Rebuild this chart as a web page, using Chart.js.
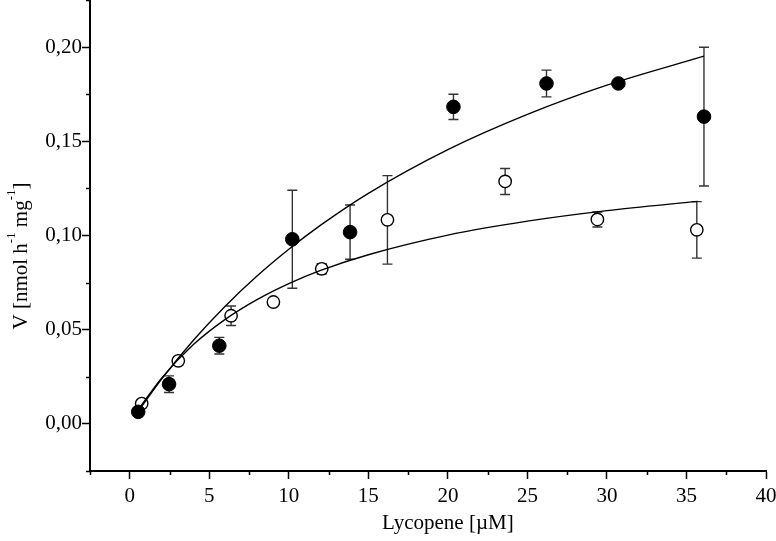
<!DOCTYPE html>
<html>
<head>
<meta charset="utf-8">
<script src="https://cdn.jsdelivr.net/npm/chart.js@4/dist/chart.umd.min.js"></script>
<style>
    html, body { margin: 0; padding: 0; background: #ffffff; }
    #wrap { width: 776px; height: 541px; }
</style>
</head>
<body>
<div id="wrap"><canvas id="myChart" width="776" height="541"></canvas></div>
<script>
// filled circles
const filledX = [0.53, 2.47, 5.63, 10.22, 13.85, 20.35, 26.2, 30.72, 36.1];
const filledY = [0.0064, 0.0211, 0.0415, 0.098, 0.1018, 0.1683, 0.1807, 0.1807, 0.1631];
const filledErr = [0, 0.0044, 0.0044, 0.026, 0.0144, 0.0067, 0.0071, 0, 0.0368];

// open circles
const openX = [0.75, 3.05, 6.37, 9.03, 12.07, 16.2, 23.6, 29.4, 35.65];
const openY = [0.0108, 0.0335, 0.0574, 0.0647, 0.0823, 0.1083, 0.1287, 0.1085, 0.103];
const openErr = [0.002, 0.002, 0.0052, 0.0015, 0.0027, 0.0235, 0.0069, 0.004, 0.015];

// fitted curves
const fitFilledX = [0.5, 2, 4, 6, 8, 10, 12, 15, 20, 25, 30, 36.1];
const fitFilledY = [0.0063, 0.0238, 0.0444, 0.0625, 0.0785, 0.0927, 0.1055, 0.1224, 0.1456, 0.1643, 0.1798, 0.1952];
const fitOpenX = [0.7, 2, 4, 6, 8, 10, 12, 15, 20, 25, 30, 35.7];
const fitOpenY = [0.0095, 0.0243, 0.0421, 0.0555, 0.066, 0.0745, 0.0815, 0.0898, 0.1002, 0.1076, 0.1132, 0.1181];

const xTicks = [0, 5, 10, 15, 20, 25, 30, 35, 40];
const yTicks = ['0,00', '0,05', '0,10', '0,15', '0,20'];

const xTitle = 'Lycopene [\u00b5M]';
const yTitleParts = [['V [nmol h', false], ['-1', true], [' mg', false], ['-1', true], [']', false]];

const FONT = '"Liberation Serif", "Times New Roman", serif';

function toPoints(xs, ys) {
    return xs.map((x, i) => ({ x: x, y: ys[i] }));
}

function isMajorX(v) {
    return Math.abs(v / 5 - Math.round(v / 5)) < 1e-6;
}

function isMajorY(v) {
    return Math.abs(v / 0.05 - Math.round(v / 0.05)) < 1e-6;
}

const errorBars = {
    id: 'errorBars',
    beforeDatasetsDraw(chart) {
        const ctx = chart.ctx;
        const xs = chart.scales.x;
        const ys = chart.scales.y;
        ctx.save();
        ctx.strokeStyle = '#333333';
        ctx.lineWidth = 1.4;
        [[filledX, filledY, filledErr], [openX, openY, openErr]].forEach(set => {
            set[0].forEach((x, i) => {
                const e = set[2][i];
                if (!e) return;
                const px = xs.getPixelForValue(x);
                const top = ys.getPixelForValue(set[1][i] + e);
                const bot = ys.getPixelForValue(set[1][i] - e);
                ctx.beginPath();
                ctx.moveTo(px, top);
                ctx.lineTo(px, bot);
                ctx.moveTo(px - 5, top);
                ctx.lineTo(px + 5, top);
                ctx.moveTo(px - 5, bot);
                ctx.lineTo(px + 5, bot);
                ctx.stroke();
            });
        });
        ctx.restore();
    }
};

const extras = {
    id: 'extras',
    afterDraw(chart) {
        const ctx = chart.ctx;
        const xs = chart.scales.x;
        const ys = chart.scales.y;
        ctx.save();
        ctx.strokeStyle = '#000000';
        ctx.lineWidth = 1.5;

        // minor ticks
        ctx.beginPath();
        xs.ticks.forEach(t => {
            if (isMajorX(t.value)) return;
            const px = Math.round(xs.getPixelForValue(t.value)) + 0.5;
            ctx.moveTo(px, xs.top);
            ctx.lineTo(px, xs.top + 4);
        });
        ys.ticks.forEach(t => {
            if (isMajorY(t.value)) return;
            const py = Math.round(ys.getPixelForValue(t.value)) + 0.5;
            ctx.moveTo(ys.right, py);
            ctx.lineTo(ys.right - 4, py);
        });
        ctx.stroke();

        ctx.fillStyle = '#000000';

        // x title, centred on 0..40
        ctx.font = '21px ' + FONT;
        ctx.textAlign = 'center';
        ctx.textBaseline = 'middle';
        const cx = (xs.getPixelForValue(0) + xs.getPixelForValue(40)) / 2;
        ctx.fillText(xTitle, cx, 523);

        // y title with superscripts
        const big = '21px ' + FONT;
        const small = '13px ' + FONT;
        let total = 0;
        yTitleParts.forEach(p => {
            ctx.font = p[1] ? small : big;
            total += ctx.measureText(p[0]).width;
        });
        ctx.translate(21, 256);
        ctx.rotate(-Math.PI / 2);
        ctx.textAlign = 'left';
        ctx.textBaseline = 'middle';
        let pos = -total / 2;
        yTitleParts.forEach(p => {
            ctx.font = p[1] ? small : big;
            ctx.fillText(p[0], pos, p[1] ? -9 : 0);
            pos += ctx.measureText(p[0]).width;
        });
        ctx.restore();
    }
};

const lineStyle = {
    showLine: true,
    borderColor: '#000000',
    borderWidth: 1.4,
    pointRadius: 0,
    cubicInterpolationMode: 'monotone',
    fill: false
};

new Chart(document.getElementById('myChart'), {
    type: 'scatter',
    data: {
        datasets: [
            Object.assign({ data: toPoints(fitFilledX, fitFilledY), order: 0 }, lineStyle),
            Object.assign({ data: toPoints(fitOpenX, fitOpenY), order: 0 }, lineStyle),
            {
                data: toPoints(filledX, filledY),
                pointRadius: 6.8,
                pointBackgroundColor: '#000000',
                pointBorderColor: '#000000',
                pointBorderWidth: 1,
                order: 1
            },
            {
                data: toPoints(openX, openY),
                pointRadius: 6.2,
                pointBackgroundColor: '#ffffff',
                pointBorderColor: '#000000',
                pointBorderWidth: 1.4,
                order: 2
            }
        ]
    },
    options: {
        responsive: false,
        animation: false,
        layout: { autoPadding: false, padding: { top: 0, right: 10, left: 0, bottom: 0 } },
        plugins: {
            legend: { display: false },
            tooltip: { enabled: false }
        },
        scales: {
            x: {
                type: 'linear',
                min: -2.5,
                max: 40,
                afterFit(scale) {
                    scale.height = 70;
                    scale.paddingLeft = 0;
                    scale.paddingRight = 0;
                },
                border: { color: '#000000', width: 2 },
                grid: {
                    drawOnChartArea: false,
                    tickLength: 8,
                    tickWidth: 1.5,
                    tickColor: c => isMajorX(c.tick.value) ? '#000000' : 'rgba(0,0,0,0)'
                },
                ticks: {
                    stepSize: 2.5,
                    autoSkip: false,
                    maxRotation: 0,
                    padding: 5,
                    color: '#000000',
                    font: { family: FONT, size: 21 },
                    callback: v => isMajorX(v) ? xTicks[Math.round(v / 5)] : ''
                }
            },
            y: {
                type: 'linear',
                min: -0.025,
                max: 0.225,
                afterFit(scale) {
                    scale.width = 90;
                    scale.paddingTop = 0;
                    scale.paddingBottom = 0;
                },
                border: { color: '#000000', width: 2 },
                grid: {
                    drawOnChartArea: false,
                    tickLength: 8,
                    tickWidth: 1.5,
                    tickColor: c => isMajorY(c.tick.value) ? '#000000' : 'rgba(0,0,0,0)'
                },
                ticks: {
                    stepSize: 0.025,
                    autoSkip: false,
                    padding: 0,
                    color: '#000000',
                    font: { family: FONT, size: 21 },
                    callback: v => isMajorY(v) && v > -0.001 ? yTicks[Math.round(v / 0.05)] : ''
                }
            }
        }
    },
    plugins: [errorBars, extras]
});
</script>
</body>
</html>
